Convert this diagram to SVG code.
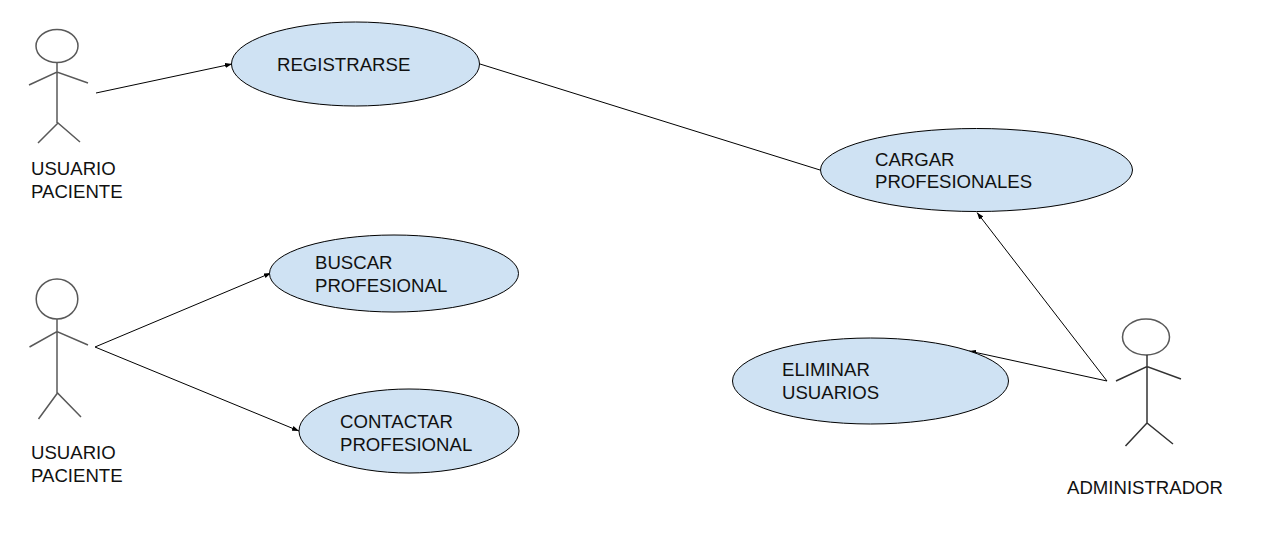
<svg xmlns="http://www.w3.org/2000/svg" width="1275" height="545" viewBox="0 0 1275 545">
<style>
.u{fill:#cfe2f3;stroke:#000;stroke-width:1}
.a{fill:none;stroke:#595959;stroke-width:1.5}
.h{fill:#fff;stroke:#595959;stroke-width:1.5}
.d{fill:none;stroke:#333;stroke-width:1.5}
.e{fill:#fff;stroke:#595959;stroke-width:1.5}
.c{fill:none;stroke:#000;stroke-width:1}
text{font-family:"Liberation Sans",Arial,sans-serif;font-size:18.6px;fill:#111}
</style>
<defs><marker id="m" markerWidth="8" markerHeight="6" refX="7" refY="3" orient="auto" markerUnits="userSpaceOnUse"><path d="M0 0.5L7 3L0 5.5Z" fill="#000"/></marker></defs>
<rect width="1275" height="545" fill="#fff"/>
<g id="connectors">
<path class="c" d="M96 93L232 64" marker-end="url(#m)"/>
<path class="c" d="M480 64L820 170"/>
<path class="c" d="M95 347L271 273" marker-end="url(#m)"/>
<path class="c" d="M95 347L299 431" marker-end="url(#m)"/>
<path class="c" d="M1107 381L977 212.500" marker-end="url(#m)"/>
<path class="c" d="M1107 381L969 351" marker-end="url(#m)"/>
</g>
<g id="actor1"><ellipse class="h" cx="57" cy="46" rx="21" ry="16.500"/><path class="a" d="M57 62.500V123M29 85L57 72L88 83M38 143L58 123L80 142"/><text x="31" y="174.500">USUARIO</text><text x="31" y="198">PACIENTE</text></g>
<g id="actor2"><ellipse class="h" cx="57" cy="299" rx="20.800" ry="20"/><path class="a" d="M57 319V393M29.500 347L57 331.500L88 345M38.500 419L57.500 393L81 417"/><text x="31" y="459">USUARIO</text><text x="31" y="482">PACIENTE</text></g>
<g id="actor3"><ellipse class="e" cx="1146" cy="337" rx="23.500" ry="18"/><path class="d" d="M1147 355V423M1116 381L1147 366.500L1181 379M1125.500 446L1147 423L1173 444"/><text x="1067" y="494">ADMINISTRADOR</text></g>
<g id="registrarse"><ellipse class="u" cx="355.500" cy="64" rx="124" ry="42"/><text x="277" y="71">REGISTRARSE</text></g>
<g id="cargar"><ellipse class="u" cx="976.500" cy="170" rx="156" ry="41.500"/><text x="875" y="166">CARGAR</text><text x="875" y="188">PROFESIONALES</text></g>
<g id="buscar"><ellipse class="u" cx="394" cy="273.500" rx="124.500" ry="38.500"/><text x="315" y="269">BUSCAR</text><text x="315" y="292">PROFESIONAL</text></g>
<g id="contactar"><ellipse class="u" cx="409" cy="431" rx="110" ry="42"/><text x="340" y="428">CONTACTAR</text><text x="340" y="451">PROFESIONAL</text></g>
<g id="eliminar"><ellipse class="u" cx="870.500" cy="381" rx="138" ry="43"/><text x="782" y="376">ELIMINAR</text><text x="782" y="399">USUARIOS</text></g>
</svg>
